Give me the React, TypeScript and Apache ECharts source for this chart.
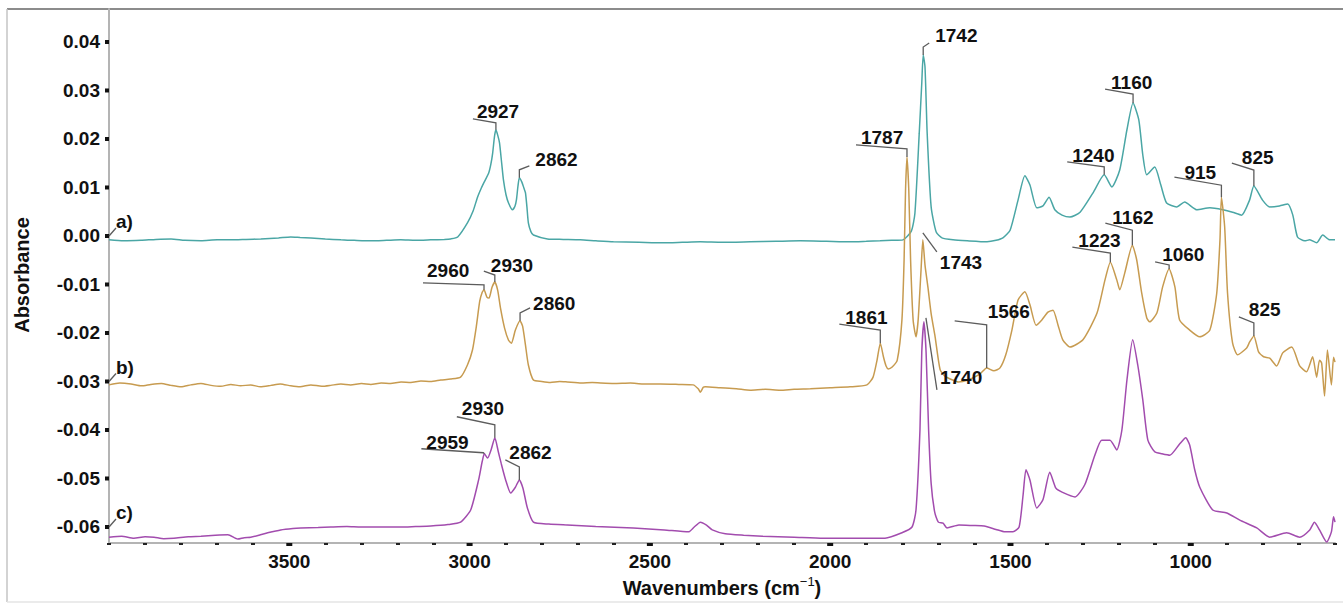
import React, { useEffect, useRef } from 'react';
import * as echarts from 'echarts';

const FONT = '"Liberation Sans", Arial, Helvetica, sans-serif';

// ---- data: [wavenumber (cm-1), absorbance] ----
const traceA: [number, number][] = [
  [4000, -0.0008], [3960, -0.001], [3911, -0.0009], [3870, -0.0007], [3828, -0.0006], [3790, -0.0009],
  [3745, -0.001], [3700, -0.0008], [3662, -0.0008], [3620, -0.0007], [3579, -0.0006], [3530, -0.0004],
  [3496, -0.0002], [3470, -0.0003], [3440, -0.0004], [3400, -0.0006], [3357, -0.0008], [3320, -0.0009],
  [3274, -0.001], [3230, -0.0009], [3191, -0.0008], [3150, -0.0009], [3108, -0.0008], [3070, -0.0007],
  [3053, -0.0006], [3033, -0.0002], [3006, 0.0027], [2990, 0.0052], [2978, 0.008], [2968, 0.0098],
  [2961, 0.0109], [2947, 0.013], [2941, 0.0148], [2936, 0.0171], [2931, 0.0205], [2927, 0.0219],
  [2922, 0.0208], [2917, 0.0192], [2911, 0.015], [2906, 0.0115], [2899, 0.0085], [2892, 0.0068],
  [2881, 0.0054], [2874, 0.0062], [2870, 0.0075], [2866, 0.0102], [2862, 0.012], [2855, 0.0111],
  [2849, 0.0098], [2845, 0.0089], [2841, 0.006], [2837, 0.0027], [2830, 0.0009], [2823, 0.0002],
  [2784, -0.0006], [2740, -0.0007], [2693, -0.0008], [2650, -0.001], [2601, -0.0012], [2530, -0.0013],
  [2463, -0.0014], [2410, -0.0013], [2360, -0.0012], [2300, -0.0013], [2222, -0.0012], [2150, -0.0011],
  [2083, -0.001], [2010, -0.0011], [1945, -0.0012], [1900, -0.0011], [1862, -0.001], [1830, -0.0009],
  [1798, -0.0008], [1775, 0.001], [1765, 0.0047], [1753, 0.0212], [1746, 0.0315], [1742, 0.0373],
  [1737, 0.0348], [1731, 0.0212], [1720, 0.006], [1706, 0.0008], [1690, -0.0004], [1659, -0.0008],
  [1620, -0.001], [1565, -0.0012], [1540, -0.0009], [1521, -0.0004], [1501, 0.0012], [1479, 0.0074],
  [1460, 0.0124], [1446, 0.0105], [1427, 0.0058], [1410, 0.0062], [1393, 0.008], [1377, 0.0054],
  [1357, 0.0043], [1335, 0.0039], [1307, 0.0049], [1271, 0.0089], [1240, 0.0126], [1219, 0.0101],
  [1197, 0.0136], [1177, 0.0219], [1160, 0.0274], [1144, 0.0239], [1133, 0.0167], [1122, 0.0126],
  [1100, 0.0142], [1083, 0.0105], [1067, 0.0068], [1039, 0.006], [1017, 0.007], [983, 0.0054],
  [947, 0.0058], [911, 0.0054], [884, 0.0049], [859, 0.0043], [837, 0.0074], [825, 0.0103],
  [801, 0.0074], [781, 0.006], [754, 0.0062], [731, 0.0066], [717, 0.0043], [704, -0.0002],
  [684, -0.001], [670, -0.0008], [651, -0.0014], [634, 0.0002], [615, -0.0008], [600, -0.0008],
];

const traceB: [number, number][] = [
  [4000, -0.0307], [3970, -0.0303], [3939, -0.0305], [3910, -0.0309], [3884, -0.0306], [3855, -0.0304],
  [3828, -0.0308], [3800, -0.0311], [3773, -0.0307], [3745, -0.0304], [3717, -0.0308], [3690, -0.031],
  [3662, -0.0306], [3635, -0.0309], [3607, -0.0307], [3580, -0.0311], [3551, -0.0308], [3525, -0.0305],
  [3496, -0.0309], [3470, -0.0311], [3440, -0.0307], [3410, -0.031], [3385, -0.0308], [3357, -0.0305],
  [3330, -0.0307], [3300, -0.0304], [3274, -0.0306], [3245, -0.0303], [3219, -0.0304], [3190, -0.0301],
  [3163, -0.0302], [3135, -0.0299], [3108, -0.03], [3080, -0.0297], [3053, -0.0295], [3025, -0.0291],
  [3006, -0.0266], [2992, -0.0235], [2981, -0.0185], [2972, -0.0135], [2965, -0.0116], [2960, -0.0111],
  [2952, -0.0126], [2946, -0.0128], [2938, -0.0106], [2930, -0.0095], [2922, -0.0112], [2914, -0.015],
  [2903, -0.019], [2892, -0.0215], [2884, -0.0221], [2873, -0.0194], [2860, -0.0175], [2853, -0.0186],
  [2845, -0.0225], [2837, -0.0266], [2823, -0.0297], [2800, -0.03], [2776, -0.0302], [2750, -0.03],
  [2729, -0.0301], [2690, -0.0303], [2660, -0.0302], [2637, -0.0303], [2600, -0.0304], [2554, -0.0303],
  [2520, -0.0305], [2471, -0.0305], [2420, -0.0306], [2380, -0.0307], [2366, -0.0315], [2360, -0.0322],
  [2352, -0.0312], [2346, -0.0311], [2305, -0.0313], [2260, -0.0315], [2222, -0.0318], [2180, -0.0316],
  [2139, -0.0318], [2100, -0.0316], [2055, -0.0315], [2000, -0.0313], [1945, -0.0311], [1898, -0.0307],
  [1881, -0.0291], [1870, -0.0256], [1861, -0.0221], [1852, -0.025], [1845, -0.0268], [1839, -0.0274],
  [1828, -0.027], [1814, -0.0256], [1801, -0.0173], [1795, -0.0049], [1791, 0.0095], [1787, 0.0163],
  [1782, 0.0095], [1777, -0.0049], [1770, -0.0173], [1762, -0.0208], [1756, -0.0173], [1748, -0.007],
  [1743, -0.0008], [1737, -0.006], [1729, -0.0105], [1720, -0.016], [1709, -0.0208], [1695, -0.0276],
  [1680, -0.029], [1660, -0.0297], [1645, -0.0301], [1618, -0.0297], [1585, -0.0285], [1566, -0.0272],
  [1546, -0.0278], [1529, -0.0272], [1513, -0.0245], [1496, -0.0194], [1479, -0.0132], [1460, -0.0115],
  [1446, -0.0142], [1429, -0.0184], [1413, -0.0173], [1396, -0.0157], [1382, -0.0153], [1368, -0.0184],
  [1355, -0.0214], [1335, -0.0229], [1299, -0.0214], [1260, -0.0159], [1238, -0.0091], [1223, -0.0054],
  [1205, -0.0091], [1197, -0.0111], [1183, -0.0076], [1162, -0.0019], [1150, -0.0049], [1136, -0.0118],
  [1122, -0.0169], [1114, -0.0177], [1094, -0.0159], [1078, -0.0105], [1060, -0.0068], [1044, -0.0105],
  [1031, -0.0173], [1003, -0.0194], [975, -0.0208], [947, -0.0194], [928, -0.0118], [919, -0.0008],
  [915, 0.008], [906, 0.0019], [898, -0.0118], [884, -0.0221], [870, -0.0245], [845, -0.0231],
  [837, -0.0219], [825, -0.0206], [812, -0.0239], [798, -0.0249], [781, -0.0252], [762, -0.0268],
  [745, -0.0241], [720, -0.0229], [698, -0.0268], [679, -0.028], [662, -0.0249], [651, -0.0291],
  [643, -0.0256], [637, -0.0262], [629, -0.033], [621, -0.0235], [610, -0.0307], [604, -0.025],
  [600, -0.026],
];

const traceC: [number, number][] = [
  [4000, -0.0621], [3965, -0.0619], [3931, -0.0623], [3900, -0.062], [3875, -0.0621], [3848, -0.0624],
  [3820, -0.0623], [3780, -0.062], [3745, -0.0619], [3705, -0.0617], [3670, -0.0616], [3643, -0.0625],
  [3625, -0.0622], [3607, -0.0621], [3580, -0.0616], [3560, -0.0612], [3524, -0.0606], [3490, -0.0603],
  [3468, -0.0602], [3420, -0.0601], [3385, -0.06], [3340, -0.0599], [3302, -0.06], [3250, -0.06],
  [3191, -0.06], [3150, -0.0599], [3108, -0.0598], [3060, -0.0595], [3025, -0.059], [2997, -0.0565],
  [2975, -0.0503], [2965, -0.0465], [2959, -0.0449], [2950, -0.0458], [2940, -0.044], [2930, -0.0416],
  [2920, -0.0446], [2912, -0.047], [2900, -0.0503], [2886, -0.053], [2873, -0.0518], [2862, -0.0503],
  [2852, -0.052], [2840, -0.056], [2823, -0.059], [2780, -0.0594], [2729, -0.0596], [2650, -0.0599],
  [2546, -0.0602], [2460, -0.0606], [2393, -0.061], [2377, -0.06], [2360, -0.059], [2343, -0.0596],
  [2327, -0.0606], [2291, -0.0614], [2240, -0.0617], [2188, -0.0619], [2100, -0.0621], [2019, -0.0623],
  [1930, -0.0623], [1848, -0.0623], [1801, -0.0612], [1773, -0.06], [1762, -0.0565], [1751, -0.04],
  [1746, -0.024], [1740, -0.0177], [1734, -0.024], [1727, -0.04], [1720, -0.051], [1710, -0.057],
  [1700, -0.059], [1687, -0.0592], [1676, -0.0602], [1643, -0.0596], [1605, -0.0597], [1573, -0.0598],
  [1540, -0.0605], [1515, -0.061], [1493, -0.061], [1476, -0.06], [1465, -0.0534], [1457, -0.0482],
  [1446, -0.0503], [1427, -0.0561], [1410, -0.0544], [1391, -0.0487], [1374, -0.052], [1357, -0.0528],
  [1321, -0.0538], [1294, -0.0513], [1266, -0.0452], [1247, -0.0421], [1224, -0.0421], [1205, -0.0441],
  [1191, -0.04], [1177, -0.0297], [1161, -0.0214], [1147, -0.0266], [1133, -0.0338], [1119, -0.0421],
  [1100, -0.0445], [1080, -0.0449], [1058, -0.0452], [1031, -0.0429], [1014, -0.0416], [1003, -0.0431],
  [989, -0.0482], [975, -0.0518], [939, -0.0565], [900, -0.0571], [864, -0.0586], [817, -0.0602],
  [781, -0.0621], [734, -0.0612], [698, -0.0621], [670, -0.0606], [657, -0.059], [643, -0.0606],
  [623, -0.0631], [610, -0.061], [604, -0.0579], [600, -0.059],
];

const traces = [traceA, traceB, traceC];
const traceNames = ['a)', 'b)', 'c)'];
const traceOffsets = [0, -0.03, -0.06];
const traceColors = ['#4aa6a5', '#c79b50', '#a24cae'];

const yTickValues = [-0.06, -0.05, -0.04, -0.03, -0.02, -0.01, 0, 0.01, 0.02, 0.03, 0.04];
const xMajorTicks = [1000, 1500, 2000, 2500, 3000, 3500];

// peak annotations: trace index, wavenumber, label
const peakTraces = [0, 0, 0, 0, 0, 0, 1, 1, 1, 1, 1, 1, 1, 1, 1, 1, 1, 1, 2, 2, 2, 2];
const peakWavenumbers = [2927, 2862, 1742, 1240, 1160, 825, 2960, 2930, 2860, 1861, 1787, 1743, 1566, 1223, 1162, 1060, 915, 825, 2959, 2930, 2862, 1740];

// layout of each annotation (pixel offsets from the peak): leader polyline, text anchor
const peakLeaders: number[][][] = [
  [[0, 0], [0, -7], [-23, -11]],
  [[0, 0], [0, -8], [10, -12]],
  [[0, 0], [0, -8], [6, -12]],
  [[0, 0], [0, -8], [-37, -13]],
  [[0, 0], [0, -9], [-28, -14]],
  [[0, 0], [0, -16], [-22, -23]],
  [[0, 0], [0, -5], [-61, -7]],
  [[0, 0], [0, -7], [-11, -11]],
  [[0, 0], [0, -8], [10, -13]],
  [[0, 0], [0, -13], [-41, -19]],
  [[0, 0], [0, -8], [-51, -12]],
  [[0, -7], [14, 12]],
  [[0, 0], [0, -43], [-32, -47]],
  [[0, 0], [0, -9], [-38, -15]],
  [[0, 0], [0, -15], [-27, -22]],
  [[0, 0], [0, -4], [-14, -7]],
  [[0, 0], [0, -12], [-47, -20]],
  [[0, 0], [0, -13], [-15, -19]],
  [[0, 0], [-1, -1], [-63, -5]],
  [[0, 0], [0, -13], [-38, -21]],
  [[0, 0], [0, -13], [-14, -20]],
  [[2, -4], [13, 68]],
];
const peakTextOffsets: number[][] = [
  [-19, -18], [16, -18], [12, -20], [-32, -19], [-22, -21], [-12, -29],
  [-57, -19], [-4, -17], [13, -17], [-35, -26], [-46, -19], [17, 23], [1, -56],
  [-32, -22], [-20, -28], [-7, -14], [-37, -25], [-5, -26],
  [-58, -11], [-33, -29], [-10, -27], [16, 56],
];
const traceLabelLeader = [[0, 0], [7, -8]];
const traceLabelText = [7, -14];

function valueAt(data: [number, number][], wn: number): number {
  let best = data[0];
  for (const d of data) if (Math.abs(d[0] - wn) < Math.abs(best[0] - wn)) best = d;
  return best[1];
}

export default function App() {
  const ref = useRef<HTMLDivElement>(null);
  useEffect(() => {
    if (!ref.current) return;
    const chart = echarts.init(ref.current, undefined, { renderer: 'svg' });

    const annItems: { text: string; leader: number[][]; textOff: number[] }[] = [];
    const annData: number[][] = [];
    peakWavenumbers.forEach((wn, i) => {
      annItems.push({ text: String(wn), leader: peakLeaders[i], textOff: peakTextOffsets[i] });
      annData.push([wn, valueAt(traces[peakTraces[i]], wn)]);
    });
    traceNames.forEach((n, i) => {
      annItems.push({ text: n, leader: traceLabelLeader, textOff: traceLabelText });
      annData.push([4000, traceOffsets[i]]);
    });

    const yMin = -0.0633;
    const yMax = 0.0468;

    chart.setOption({
      animation: false,
      grid: { left: 109, right: 8, top: 9, bottom: 62 },
      xAxis: {
        type: 'value',
        inverse: true,
        min: 600,
        max: 4000,
        interval: 100,
        axisLine: { show: true, onZero: false, lineStyle: { color: '#b4b4b4', width: 2 } },
        axisTick: { show: true, length: 2, lineStyle: { color: '#222', width: 4 } },
        splitLine: { show: false },
        axisLabel: {
          margin: 9,
          color: '#111',
          fontFamily: FONT,
          fontWeight: 'bold',
          fontSize: 19,
          formatter: (v: number) => (v % 500 === 0 && v > 600 && v < 4000 ? String(v) : ''),
        },
      },
      yAxis: {
        type: 'value',
        min: yMin,
        max: yMax,
        splitNumber: 11,
        axisLine: { show: true, onZero: false, lineStyle: { color: '#b4b4b4', width: 2 } },
        axisTick: { show: false },
        splitLine: { show: false },
        axisLabel: {
          margin: 9,
          color: '#111',
          fontFamily: FONT,
          fontWeight: 'bold',
          fontSize: 19,
          formatter: (v: number) =>
            Math.abs(v * 100 - Math.round(v * 100)) < 1e-6 && v > yMin + 0.001 && v < yMax - 0.001
              ? (Math.round(v * 100) / 100).toFixed(2)
              : '',
        },
      },
      graphic: [
        { type: 'line', shape: { x1: 7, y1: 9, x2: 1343, y2: 9 }, style: { stroke: '#8c8c8c', lineWidth: 2 } },
        { type: 'line', shape: { x1: 7, y1: 9, x2: 7, y2: 602 }, style: { stroke: '#c4c4c4', lineWidth: 1.5 } },
        { type: 'line', shape: { x1: 7, y1: 602, x2: 1343, y2: 602 }, style: { stroke: '#e4e4e4', lineWidth: 1.5 } },
        {
          type: 'text',
          x: 22,
          y: 275,
          rotation: Math.PI / 2,
          style: {
            text: 'Absorbance',
            font: `bold 20px ${FONT}`,
            fill: '#111',
            align: 'center',
            verticalAlign: 'middle',
          },
        },
        {
          type: 'text',
          x: 722,
          y: 588,
          style: {
            text: '{m|Wavenumbers (cm}{s|−1}{m|)}',
            align: 'center',
            verticalAlign: 'middle',
            rich: {
              m: { font: `bold 20px ${FONT}`, fill: '#111', lineHeight: 26, verticalAlign: 'middle' },
              s: { font: `13px ${FONT}`, fill: '#111', lineHeight: 14, verticalAlign: 'top' },
            },
          },
        },
      ],
      series: [
        ...traces.map((d, i) => ({
          type: 'line',
          data: d,
          showSymbol: false,
          symbol: 'none',
          silent: true,
          smooth: 0.2,
          lineStyle: { color: traceColors[i], width: 1.5 },
          z: 2,
        })),
        {
          type: 'custom',
          silent: true,
          clip: false,
          z: 5,
          data: yTickValues.map((v) => [4000, v]),
          renderItem: (params: any, api: any) => {
            const p = api.coord([api.value(0), api.value(1)]);
            return { type: 'rect', shape: { x: p[0] - 4, y: p[1] - 2, width: 4, height: 4 }, style: { fill: '#111' } };
          },
        },
        {
          type: 'custom',
          silent: true,
          clip: false,
          z: 5,
          data: xMajorTicks.map((v) => [v, yMin]),
          renderItem: (params: any, api: any) => {
            const p = api.coord([api.value(0), api.value(1)]);
            return { type: 'rect', shape: { x: p[0] - 3, y: p[1], width: 6, height: 3 }, style: { fill: '#111' } };
          },
        },
        {
          type: 'custom',
          silent: true,
          clip: false,
          z: 6,
          data: annData,
          renderItem: (params: any, api: any) => {
            const item = annItems[params.dataIndex];
            const p = api.coord([api.value(0), api.value(1)]);
            const pts = item.leader.map(([dx, dy]) => [p[0] + dx, p[1] + dy]);
            return {
              type: 'group',
              children: [
                { type: 'polyline', shape: { points: pts }, style: { stroke: '#5c5c5c', lineWidth: 1.3, fill: 'none' } },
                {
                  type: 'text',
                  x: p[0] + item.textOff[0],
                  y: p[1] + item.textOff[1],
                  style: {
                    text: item.text,
                    font: `bold 19px ${FONT}`,
                    fill: '#111',
                    align: 'left',
                    verticalAlign: 'middle',
                  },
                },
              ],
            };
          },
        },
      ],
    });
    return () => chart.dispose();
  }, []);
  return <div ref={ref} style={{ position: 'absolute', left: 0, top: 0, width: 1343, height: 605, background: '#fff' }} />;
}
